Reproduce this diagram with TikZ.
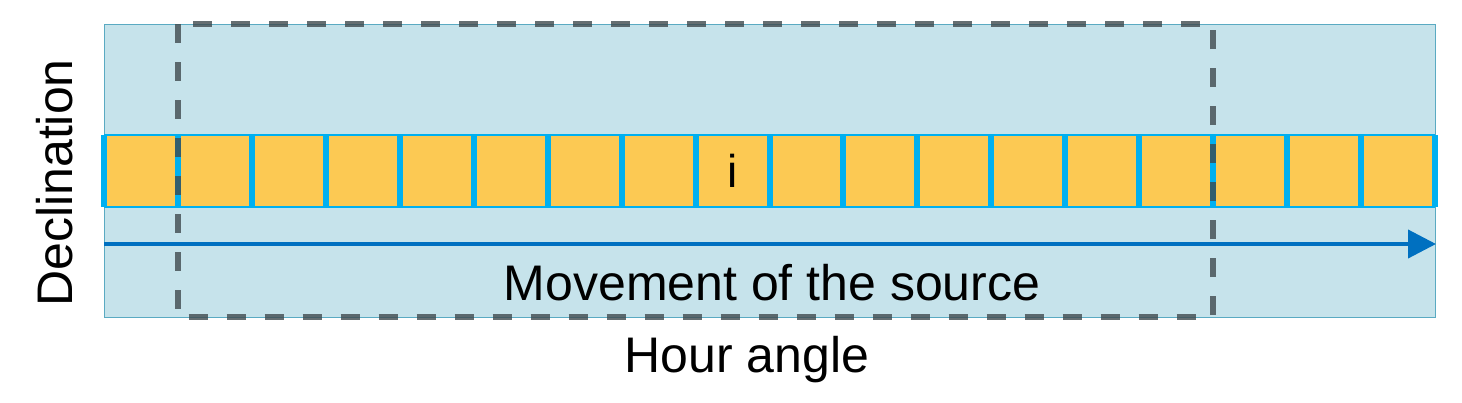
\documentclass[tikz,border=0pt]{standalone}
\usepackage{fontspec}
\setmainfont{Liberation Sans}
\usetikzlibrary{arrows.meta}
\definecolor{bgblue}{HTML}{C6E3EB}
\definecolor{bgedge}{HTML}{5AAAC2}
\definecolor{cellfill}{HTML}{FCC953}
\definecolor{cellline}{HTML}{00B0F0}
\definecolor{arrowblue}{HTML}{0070C0}
\definecolor{dashgray}{HTML}{3F4A4E}
\tikzset{
  bgbox/.style={draw=bgedge, line width=0.6pt, fill=bgblue},
  cellbox/.style={fill=cellfill, draw=none, minimum width=36.97pt, minimum height=36pt, inner sep=0pt, outer sep=0pt},
  sepline/.style={draw=cellline, line width=3pt},
  stripedge/.style={draw=cellline, line width=0.8pt},
  dashbox/.style={draw=dashgray, draw opacity=0.8, line width=3pt, dash pattern=on 9.5pt off 9.5pt},
  movearrow/.style={draw=arrowblue, line width=2pt, -{Triangle[length=14pt,width=14pt]}},
  lbl/.style={font=\fontsize{25}{30}\selectfont, inner sep=0pt}
}
\begin{document}
\begin{tikzpicture}[x=0.5pt,y=-0.5pt]
\useasboundingbox (0,0) rectangle (1462,402);
% background
\node[bgbox, minimum width=665.5pt, minimum height=146.5pt, inner sep=0pt, anchor=north west] (bg) at (104,24) {};
% cells
\foreach \i in {1,...,18}{
  \node[cellbox] (c\i) at ({104+73.944*(\i-0.5)},171) {};
}
\node[lbl, font=\fontsize{23}{28}\selectfont] at (c9) {i};
% strip edges
\draw[stripedge] (c1.north west) -- (c18.north east);
\draw[stripedge] (c1.south west) -- (c18.south east);
\foreach \i in {1,...,18}{
  \draw[sepline] (c\i.north west) -- (c\i.south west);
}
\draw[sepline] (c18.north east) -- (c18.south east);
% arrow
\coordinate (as) at (104,244);
\coordinate (ae) at (1436,244);
\draw[movearrow] (as) -- (ae);
% dashed window
\coordinate (dnw) at (177.7,24);
\coordinate (dse) at (1212.7,317);
\draw[dashbox] (dnw) rectangle (dse);
% labels
\node[lbl] (move) at (772,283) {Movement of the source};
\node[lbl] (hour) at (747,360) {Hour angle};
\node[lbl, rotate=90] (decl) at (55,183) {Declination};
\end{tikzpicture}
\end{document}
